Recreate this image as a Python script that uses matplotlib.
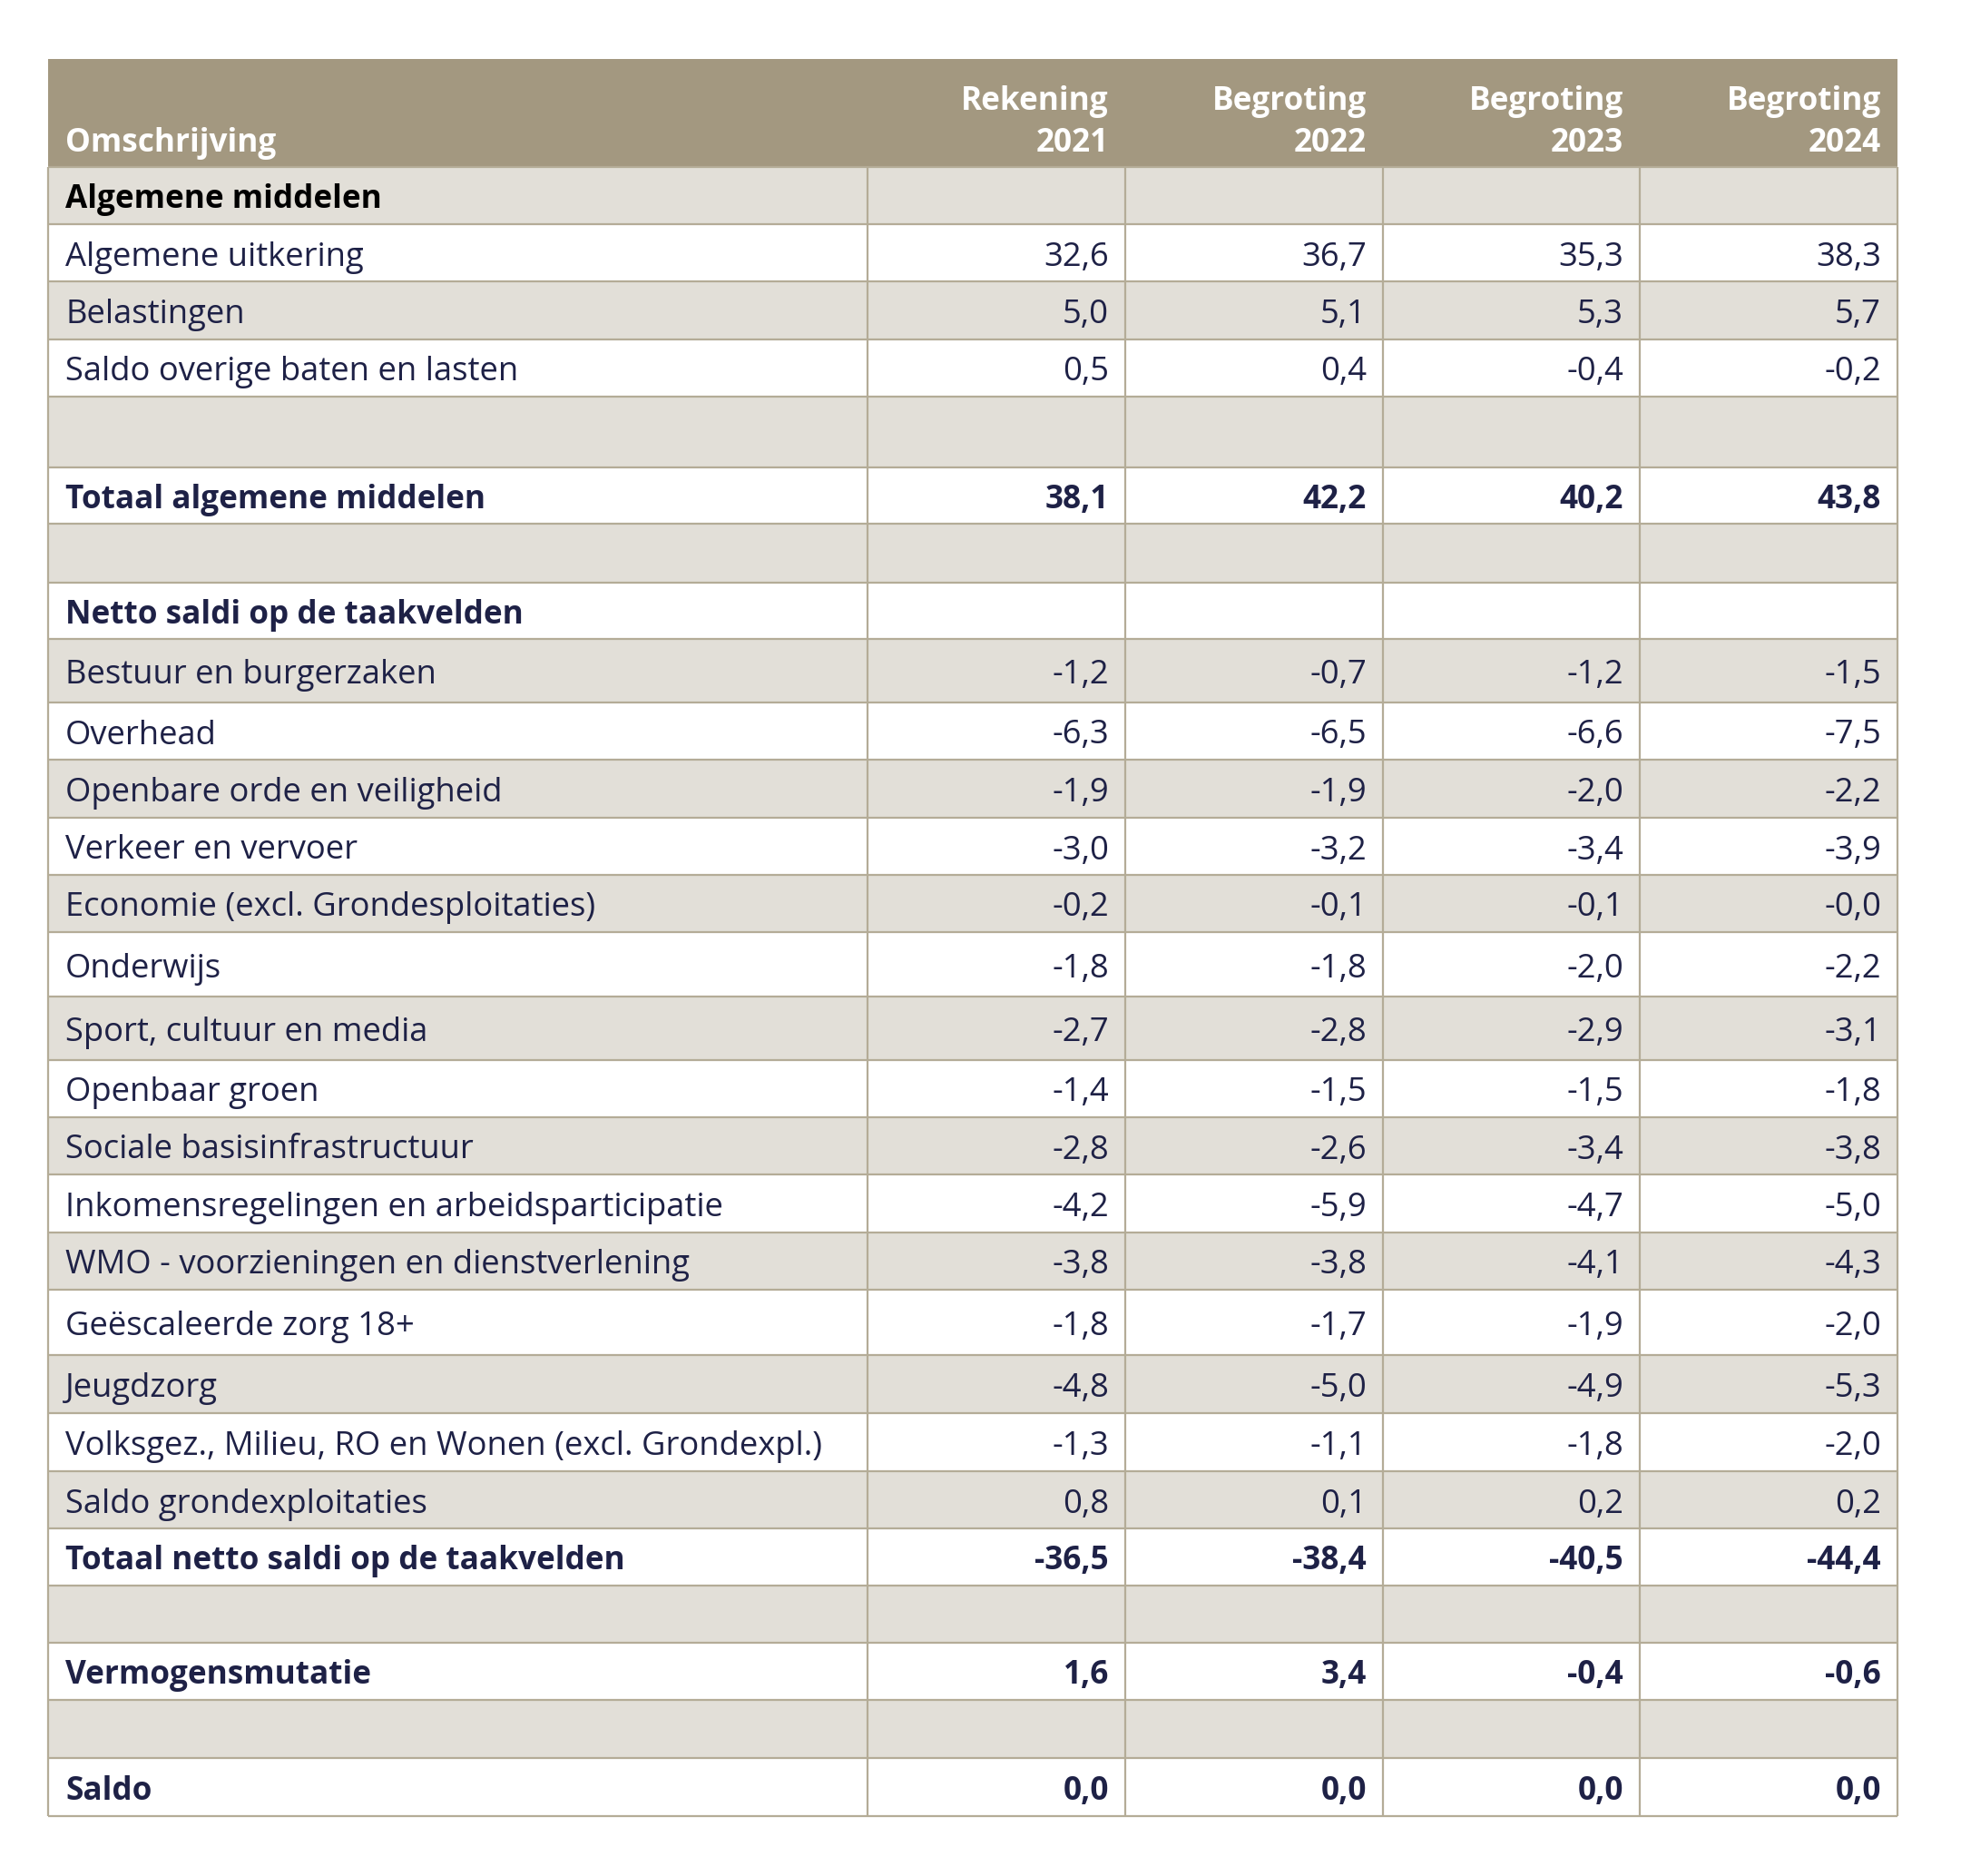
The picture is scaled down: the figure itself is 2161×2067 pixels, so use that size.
import matplotlib
matplotlib.use("Agg")
import matplotlib.pyplot as plt
from matplotlib.patches import Rectangle

# ---------------- data ----------------
col_headers = ["Rekening\n2021", "Begroting\n2022", "Begroting\n2023", "Begroting\n2024"]
first_header = "Omschrijving"

labels = [
    "Algemene middelen",
    "Algemene uitkering",
    "Belastingen",
    "Saldo overige baten en lasten",
    "",
    "Totaal algemene middelen",
    "",
    "Netto saldi op de taakvelden",
    "Bestuur en burgerzaken",
    "Overhead",
    "Openbare orde en veiligheid",
    "Verkeer en vervoer",
    "Economie (excl. Grondesploitaties)",
    "Onderwijs",
    "Sport, cultuur en media",
    "Openbaar groen",
    "Sociale basisinfrastructuur",
    "Inkomensregelingen en arbeidsparticipatie",
    "WMO - voorzieningen en dienstverlening",
    "Geëscaleerde zorg 18+",
    "Jeugdzorg",
    "Volksgez., Milieu, RO en Wonen (excl. Grondexpl.)",
    "Saldo grondexploitaties",
    "Totaal netto saldi op de taakvelden",
    "",
    "Vermogensmutatie",
    "",
    "Saldo",
]

rekening_2021 = [None, 32.6, 5.0, 0.5, None, 38.1, None, None,
                 -1.2, -6.3, -1.9, -3.0, -0.2, -1.8, -2.7, -1.4, -2.8, -4.2, -3.8, -1.8, -4.8, -1.3, 0.8,
                 -36.5, None, 1.6, None, 0.0]
begroting_2022 = [None, 36.7, 5.1, 0.4, None, 42.2, None, None,
                  -0.7, -6.5, -1.9, -3.2, -0.1, -1.8, -2.8, -1.5, -2.6, -5.9, -3.8, -1.7, -5.0, -1.1, 0.1,
                  -38.4, None, 3.4, None, 0.0]
begroting_2023 = [None, 35.3, 5.3, -0.4, None, 40.2, None, None,
                  -1.2, -6.6, -2.0, -3.4, -0.1, -2.0, -2.9, -1.5, -3.4, -4.7, -4.1, -1.9, -4.9, -1.8, 0.2,
                  -40.5, None, -0.4, None, 0.0]
begroting_2024 = [None, 38.3, 5.7, -0.2, None, 43.8, None, None,
                  -1.5, -7.5, -2.2, -3.9, -0.0, -2.2, -3.1, -1.8, -3.8, -5.0, -4.3, -2.0, -5.3, -2.0, 0.2,
                  -44.4, None, -0.6, None, 0.0]
columns = [rekening_2021, begroting_2022, begroting_2023, begroting_2024]

bold_rows = {0, 5, 7, 23, 25, 27}
black_rows = {0}

# ---------------- layout (pixels) ----------------
W, H = 2161, 2067
col_edges = [53, 956, 1240, 1524, 1807, 2091]
header_top, header_bottom = 65, 184
row_edges = [184, 247, 310, 374, 437, 515, 577, 642, 704, 774, 837, 901, 964, 1027, 1098,
             1168, 1231, 1294, 1358, 1421, 1493, 1557, 1621, 1684, 1747, 1810, 1873, 1937, 2001]

header_bg = "#A39880"
shade_bg = "#E2DFD8"
line_col = "#B4AC97"
text_col = "#1E2146"
fs_reg = 26.2
fs_bold = 25.3
font = ["Open Sans", "DejaVu Sans"]
pad_l, pad_r = 19, 18

fig = plt.figure(figsize=(W / 100, H / 100), dpi=100)
ax = fig.add_axes([0, 0, 1, 1])
ax.set_xlim(0, W)
ax.set_ylim(H, 0)
ax.axis("off")

# header
ax.add_patch(Rectangle((col_edges[0], header_top), col_edges[-1] - col_edges[0],
                       header_bottom - header_top, facecolor=header_bg, edgecolor="none"))
line1_y, line2_y = 112, 158
ax.text(col_edges[0] + pad_l, line2_y, first_header, ha="left", va="center",
        fontsize=fs_bold, fontweight="bold", color="white", family=font)
for j, h in enumerate(col_headers):
    top, bot = h.split("\n")
    xr = col_edges[j + 2] - pad_r
    ax.text(xr, line1_y, top, ha="right", va="center", fontsize=fs_bold,
            fontweight="bold", color="white", family=font)
    ax.text(xr, line2_y, bot, ha="right", va="center", fontsize=fs_bold,
            fontweight="bold", color="white", family=font)

# body rows
for i, lab in enumerate(labels):
    y0, y1 = row_edges[i], row_edges[i + 1]
    fc = shade_bg if i % 2 == 0 else "white"
    ax.add_patch(Rectangle((col_edges[0], y0), col_edges[-1] - col_edges[0], y1 - y0,
                           facecolor=fc, edgecolor="none"))
    yc = (y0 + y1) / 2 + 5
    bold = i in bold_rows
    weight = "bold" if bold else "normal"
    fs = fs_bold if bold else fs_reg
    color = "black" if i in black_rows else text_col
    if lab:
        ax.text(col_edges[0] + pad_l, yc, lab, ha="left", va="center", fontsize=fs,
                fontweight=weight, color=color, family=font)
    for j, col in enumerate(columns):
        v = col[i]
        if v is None:
            continue
        s = f"{v:.1f}".replace(".", ",")
        ax.text(col_edges[j + 2] - pad_r, yc, s, ha="right", va="center", fontsize=fs,
                fontweight=weight, color=color, family=font)

# grid lines
for y in row_edges:
    ax.plot([col_edges[0], col_edges[-1]], [y, y], color=line_col, lw=1.6, solid_capstyle="butt")
for x in col_edges:
    ax.plot([x, x], [header_bottom, row_edges[-1]], color=line_col, lw=1.6, solid_capstyle="butt")

fig.savefig("out.png", dpi=100, facecolor="white")
